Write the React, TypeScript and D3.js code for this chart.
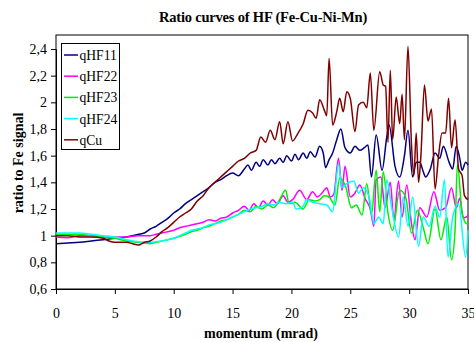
import React, {useRef, useEffect} from 'react'
import * as d3 from 'd3'

// momentum (mrad), ratio pairs
const qHF11: [number, number][] = [
  [0, 0.94], [1, 0.945], [2, 0.95], [3, 0.96], [4, 0.97], [5, 0.98], [6, 0.99], [7, 1.01], [7.5, 1.02], [8, 1.05],
  [8.5, 1.07], [9, 1.1], [9.5, 1.13], [10, 1.17], [10.5, 1.2], [11, 1.24], [11.5, 1.27], [12, 1.3], [12.5, 1.33],
  [13, 1.36], [13.5, 1.4], [14, 1.42], [14.5, 1.45], [15, 1.47], [15.5, 1.45], [16, 1.5], [16.3, 1.53], [16.6, 1.49],
  [17, 1.55], [17.3, 1.52], [17.6, 1.57], [18, 1.53], [18.3, 1.57], [18.6, 1.54], [19, 1.58], [19.3, 1.55],
  [19.6, 1.6], [20, 1.56], [20.3, 1.61], [20.6, 1.57], [21, 1.62], [21.3, 1.58], [21.6, 1.63], [22, 1.59],
  [22.4, 1.67], [22.7, 1.62], [22.9, 1.51], [23.2, 1.57], [23.5, 1.62], [23.85, 1.72], [24.2, 1.8], [24.55, 1.66],
  [25, 1.62], [25.4, 1.67], [25.8, 1.64], [26.2, 1.66], [26.5, 1.68], [26.8, 1.44], [27.2, 1.755], [27.7, 1.49],
  [28.1, 1.74], [28.3, 1.83], [28.8, 1.52], [29.2, 1.44], [29.6, 1.6], [29.9, 1.79], [30.3, 1.44], [30.6, 1.55],
  [30.9, 1.55], [31.2, 1.48], [31.4, 1.44], [31.8, 1.5], [32.2, 1.62], [32.6, 1.58], [32.9, 1.67], [33.4, 1.55],
  [33.7, 1.5], [34.0, 1.67], [34.3, 1.58], [34.5, 1.49], [34.8, 1.55], [35, 1.53]
]

const qHF22: [number, number][] = [
  [0, 0.99], [1, 0.985], [2, 1.0], [3, 1.0], [4, 0.99], [5, 0.99], [6, 0.99], [7, 1.0], [8, 1.0], [8.5, 1.01],
  [9, 1.02], [9.5, 1.03], [10, 1.04], [10.5, 1.06], [11, 1.07], [11.5, 1.08], [12, 1.09], [12.5, 1.1], [13, 1.12],
  [13.5, 1.11], [14, 1.13], [14.5, 1.14], [15, 1.17], [15.5, 1.19], [16, 1.22], [16.4, 1.19], [16.8, 1.24],
  [17.2, 1.21], [17.6, 1.26], [18, 1.23], [18.4, 1.27], [18.8, 1.24], [19.3, 1.3], [19.7, 1.25], [20.1, 1.27],
  [20.7, 1.34], [21.3, 1.27], [21.8, 1.33], [22.2, 1.29], [22.6, 1.32], [23.0, 1.36], [23.3, 1.29], [23.6, 1.31],
  [24.0, 1.58], [24.3, 1.34], [24.55, 1.52], [25.0, 1.29], [25.4, 1.32], [25.8, 1.38], [26.3, 1.27], [26.7, 1.2],
  [27.0, 1.07], [27.2, 1.42], [27.6, 1.44], [27.95, 1.21], [28.4, 1.4], [28.7, 1.12], [29.1, 1.41], [29.4, 1.14],
  [29.8, 1.38], [30.2, 1.09], [30.5, 0.97], [30.9, 1.21], [31.5, 1.14], [32.1, 1.33], [32.6, 1.19], [33.1, 1.21],
  [33.6, 1.36], [34.0, 1.21], [34.3, 1.28], [34.6, 1.13], [35, 1.15]
]

const qHF23: [number, number][] = [
  [0, 1.01], [1, 1.01], [2, 1.01], [3, 1.0], [4, 0.99], [5, 0.98], [6, 0.96], [7, 0.95], [7.5, 0.945], [8, 0.94],
  [8.5, 0.95], [9, 0.96], [9.5, 0.97], [10, 0.98], [10.5, 0.995], [11, 1.01], [11.5, 1.03], [12, 1.04], [12.5, 1.06],
  [13, 1.07], [13.5, 1.09], [14, 1.11], [14.5, 1.12], [15, 1.14], [15.5, 1.16], [16, 1.19], [16.5, 1.18], [17, 1.22],
  [17.5, 1.2], [18, 1.23], [18.5, 1.21], [19, 1.27], [19.5, 1.34], [19.8, 1.24], [20.3, 1.25], [21, 1.2],
  [21.5, 1.27], [22, 1.26], [22.4, 1.27], [22.8, 1.3], [23.2, 1.29], [23.7, 1.23], [24.1, 1.43], [24.6, 1.37],
  [25.1, 1.21], [25.5, 1.23], [26.0, 1.155], [26.4, 1.39], [26.8, 1.16], [27.2, 1.49], [27.5, 1.18], [27.8, 1.48],
  [28.2, 1.17], [28.6, 1.04], [29.2, 1.34], [29.7, 1.29], [30.2, 1.02], [30.7, 1.19], [31.2, 1.06], [31.6, 0.94],
  [32.2, 1.2], [32.7, 0.97], [33.2, 1.14], [33.6, 0.82], [33.9, 1.04], [34.1, 1.54], [34.5, 1.17], [34.9, 1.09],
  [35, 1.1]
]

const qHF24: [number, number][] = [
  [0, 1.02], [1, 1.02], [2, 1.02], [3, 1.01], [4, 1.0], [5, 0.99], [6, 0.97], [7, 0.955], [7.5, 0.95], [8, 0.95],
  [8.5, 0.955], [9, 0.96], [9.5, 0.97], [10, 0.98], [10.5, 1.0], [11, 1.02], [11.5, 1.04], [12, 1.05], [12.5, 1.06],
  [13, 1.08], [13.5, 1.09], [14, 1.1], [14.5, 1.12], [15, 1.14], [15.5, 1.16], [16, 1.18], [16.5, 1.2], [17, 1.21],
  [17.5, 1.22], [18, 1.24], [18.5, 1.23], [19, 1.25], [19.5, 1.24], [20.1, 1.25], [20.4, 1.2], [20.9, 1.21],
  [21.3, 1.27], [21.8, 1.25], [22.4, 1.24], [23.0, 1.23], [23.5, 1.18], [24.0, 1.54], [24.3, 1.36], [24.7, 1.39],
  [25.3, 1.41], [25.7, 1.32], [26.1, 1.36], [26.6, 1.29], [27.0, 1.09], [27.4, 1.14], [27.8, 1.09], [28.1, 1.42],
  [28.5, 1.22], [29.1, 0.99], [29.5, 1.29], [29.9, 1.07], [30.3, 1.29], [30.8, 0.92], [31.2, 1.14], [31.7, 1.07],
  [32.2, 1.22], [32.6, 1.14], [33.0, 1.42], [33.3, 0.84], [33.7, 1.14], [34.2, 1.24], [34.8, 0.84], [35, 1.04]
]

const qCu: [number, number][] = [
  [0, 1.0], [1, 1.0], [2, 0.99], [3, 0.99], [4, 0.98], [4.5, 0.96], [5, 0.95], [6, 0.95], [6.5, 0.94], [7, 0.93],
  [7.5, 0.95], [8, 0.96], [8.5, 0.99], [9, 1.03], [9.5, 1.06], [10, 1.1], [10.5, 1.14], [11, 1.17], [11.5, 1.2],
  [12, 1.26], [12.5, 1.3], [13, 1.36], [13.5, 1.4], [14, 1.44], [14.5, 1.48], [15, 1.52], [15.5, 1.56], [16, 1.58],
  [16.5, 1.62], [17, 1.64], [17.4, 1.74], [17.8, 1.7], [18.2, 1.79], [18.6, 1.72], [19.0, 1.855], [19.3, 1.69],
  [19.7, 1.855], [20.1, 1.71], [20.5, 1.76], [21.0, 1.84], [21.4, 1.94], [21.8, 1.92], [22.1, 1.88], [22.4, 2.02],
  [22.8, 1.94], [23.0, 1.9], [23.2, 2.33], [23.5, 1.83], [23.85, 1.93], [24.1, 2.03], [24.4, 1.93], [24.7, 2.08],
  [25.0, 2.03], [25.4, 1.78], [25.7, 1.98], [26.1, 2.0], [26.4, 1.96], [26.7, 2.22], [27.0, 1.79], [27.5, 2.23],
  [27.8, 2.13], [28.0, 2.12], [28.2, 1.7], [28.4, 2.24], [28.6, 1.72], [28.9, 2.04], [29.2, 1.84], [29.4, 2.06],
  [29.6, 1.72], [29.9, 2.42], [30.2, 1.68], [30.4, 1.45], [30.6, 1.77], [30.8, 1.4], [31.0, 1.6], [31.3, 2.13],
  [31.6, 1.86], [31.9, 1.95], [32.2, 1.35], [32.5, 1.6], [32.8, 1.77], [33.1, 1.77], [33.35, 2.03], [33.6, 1.66],
  [33.9, 1.87], [34.2, 1.5], [34.5, 1.45], [34.7, 1.3], [35, 1.27]
]

const seriesNames = ['qHF11', 'qHF22', 'qHF23', 'qHF24', 'qCu']
const seriesData = [qHF11, qHF22, qHF23, qHF24, qCu]
const seriesColors = ['#000080', '#ff00ff', '#00ee00', '#00ffff', '#800000']

const xTicks = [0, 5, 10, 15, 20, 25, 30, 35]
const yTicks = [0.6, 0.8, 1, 1.2, 1.4, 1.6, 1.8, 2, 2.2, 2.4]

const font = '"Liberation Serif", "Times New Roman", serif'

export default function App() {
  const svgRef = useRef<SVGSVGElement>(null)

  useEffect(() => {
    const svg = d3.select(svgRef.current)
    svg.selectAll('*').remove()

    const left = 56
    const right = 468
    const top = 35
    const bottom = 289

    const xScale = d3.scaleLinear().domain([0, 35]).range([left, right])
    const yScale = d3.scaleLinear().domain([0.6, 2.4]).range([bottom, 49])

    svg.append('rect').attr('width', 474).attr('height', 342).attr('fill', 'white')

    // plot frame
    svg
      .append('rect')
      .attr('x', left)
      .attr('y', top)
      .attr('width', right - left)
      .attr('height', bottom - top)
      .attr('fill', 'white')
      .attr('stroke', '#000')
      .attr('stroke-width', 1)

    const fmt = (d: number) => String(d).replace('.', ',')

    const yAxis = svg
      .append('g')
      .attr('transform', `translate(${left},0)`)
      .call(d3.axisLeft(yScale).tickValues(yTicks).tickSize(5).tickPadding(4).tickFormat(d => fmt(+d)))
    const xAxis = svg
      .append('g')
      .attr('transform', `translate(0,${bottom})`)
      .call(d3.axisBottom(xScale).tickValues(xTicks).tickSize(5).tickPadding(14).tickFormat(d => String(d)))

    for (const ax of [yAxis, xAxis]) {
      ax.select('.domain').attr('stroke', '#000')
      ax.selectAll('text').attr('font-family', font).attr('font-size', 14).attr('fill', '#000')
    }

    const line = d3
      .line<[number, number]>()
      .x(d => xScale(d[0]))
      .y(d => yScale(d[1]))
      .curve(d3.curveMonotoneX)

    seriesData.forEach((data, i) => {
      svg
        .append('path')
        .datum(data)
        .attr('d', line)
        .attr('fill', 'none')
        .attr('stroke', seriesColors[i])
        .attr('stroke-width', 1.5)
        .attr('stroke-linejoin', 'round')
    })

    // legend
    const legend = svg.append('g')
    legend
      .append('rect')
      .attr('x', 61.5)
      .attr('y', 43.5)
      .attr('width', 58)
      .attr('height', 106)
      .attr('fill', 'white')
      .attr('stroke', '#000')
    seriesNames.forEach((name, i) => {
      const y = 55 + i * 21.2
      legend
        .append('line')
        .attr('x1', 64)
        .attr('x2', 78)
        .attr('y1', y)
        .attr('y2', y)
        .attr('stroke', seriesColors[i])
        .attr('stroke-width', 1.5)
      legend
        .append('text')
        .attr('x', 79.5)
        .attr('y', y + 5)
        .attr('font-family', font)
        .attr('font-size', 13.6)
        .text(name)
    })

    svg
      .append('text')
      .attr('x', 263)
      .attr('y', 22)
      .attr('text-anchor', 'middle')
      .attr('font-family', font)
      .attr('font-weight', 'bold')
      .attr('font-size', 14.5)
      .attr('letter-spacing', -0.2)
      .text('Ratio curves of HF (Fe-Cu-Ni-Mn)')

    svg
      .append('text')
      .attr('x', 261)
      .attr('y', 338)
      .attr('text-anchor', 'middle')
      .attr('font-family', font)
      .attr('font-weight', 'bold')
      .attr('font-size', 14)
      .text('momentum (mrad)')

    svg
      .append('text')
      .attr('transform', 'translate(23,163) rotate(-90)')
      .attr('text-anchor', 'middle')
      .attr('font-family', font)
      .attr('font-weight', 'bold')
      .attr('font-size', 14)
      .text('ratio to Fe signal')
  }, [])

  return (
    <svg
      ref={svgRef}
      width={474}
      height={342}
      style={{position: 'absolute', left: 0, top: 0}}
    />
  )
}
